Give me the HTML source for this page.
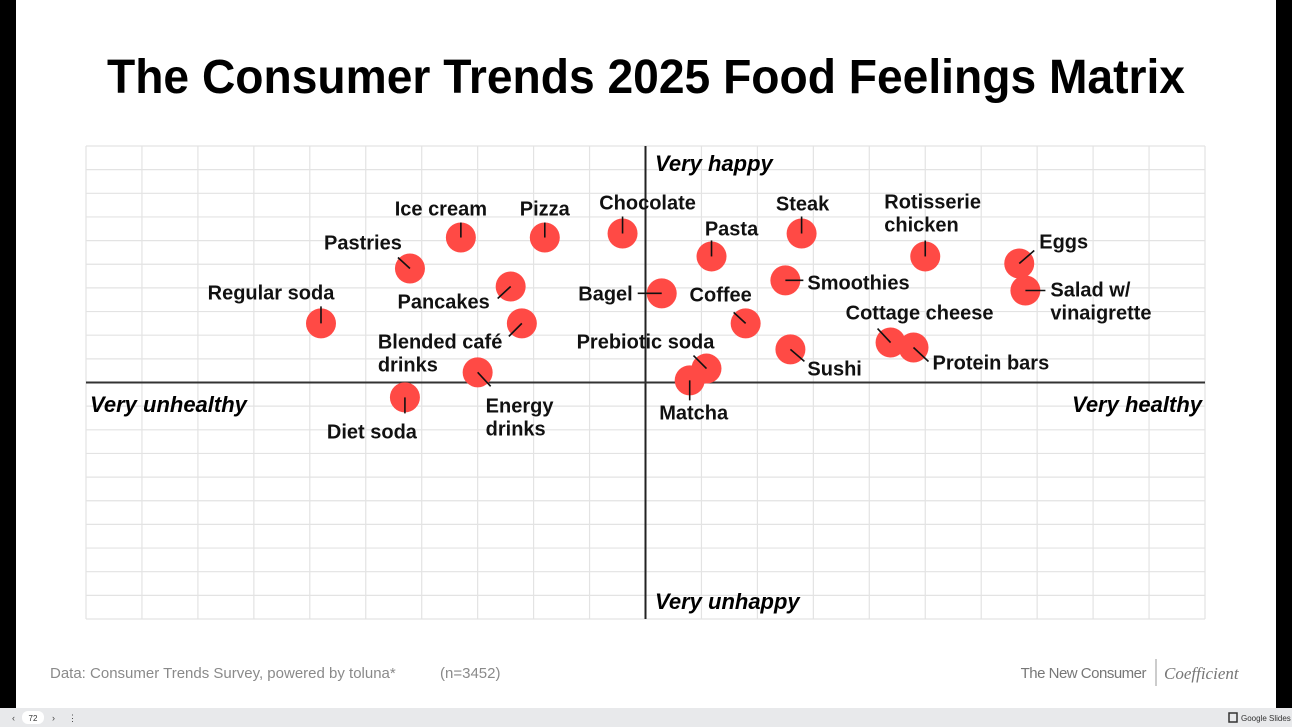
<!DOCTYPE html>
<html><head><meta charset="utf-8">
<style>
html,body{margin:0;padding:0;width:1292px;height:727px;overflow:hidden;background:#000;font-family:"Liberation Sans",sans-serif}
#slide{position:absolute;left:16px;top:0;width:1260px;height:708px;background:#fff}
#bar{position:absolute;left:0;top:708px;width:1292px;height:19px;background:#e8e9eb}
svg{position:absolute;left:0;top:0}
</style></head><body>
<div id="slide"></div>
<div id="bar"></div>
<svg id="chart" width="1292" height="727">
<text x="646" y="93" text-anchor="middle" font-size="48" font-weight="bold" textLength="1078" lengthAdjust="spacingAndGlyphs" fill="#000">The Consumer Trends 2025 Food Feelings Matrix</text>
<g id="grid"></g>
<g id="marks"></g>
<text x="655" y="171" font-size="22" font-weight="bold" font-style="italic">Very happy</text>
<text x="655" y="609" font-size="22" font-weight="bold" font-style="italic">Very unhappy</text>
<text x="90" y="412" font-size="22" font-weight="bold" font-style="italic">Very unhealthy</text>
<text x="1202" y="412" text-anchor="end" font-size="22" font-weight="bold" font-style="italic">Very healthy</text>
<text x="50" y="678" font-size="15" fill="#8a8a8a">Data: Consumer Trends Survey, powered by toluna*</text>
<text x="440" y="678" font-size="15" fill="#8a8a8a">(n=3452)</text>
<text x="1146" y="678" text-anchor="end" font-size="15" fill="#777" letter-spacing="-0.5">The New Consumer</text>
<line x1="1156" y1="659" x2="1156" y2="686" stroke="#999"/>
<text x="1164" y="679" font-size="17" font-style="italic" fill="#777" font-family="Liberation Serif,serif">Coefficient</text>
<text x="12" y="721" font-size="9" fill="#444">‹</text>
<rect x="22" y="711" width="22" height="13" rx="6" fill="#fff"/>
<text x="33" y="721" text-anchor="middle" font-size="8" fill="#333">72</text>
<text x="52" y="721" font-size="9" fill="#444">›</text>
<text x="68" y="721" font-size="9" fill="#444">⋮</text>
<rect x="1229" y="713" width="8" height="9" fill="none" stroke="#333" stroke-width="1.5"/>
<text x="1241" y="721" font-size="8" fill="#333">Google Slides</text>
</svg>
<script>
const names=["Regular soda","Diet soda","Pastries","Ice cream","Pizza","Chocolate","Pancakes","Blended café|drinks","Energy|drinks","Bagel","Pasta","Steak","Smoothies","Coffee","Prebiotic soda","Matcha","Sushi","Rotisserie|chicken","Cottage cheese","Protein bars","Eggs","Salad w/|vinaigrette"];
const health=[-5.8,-4.3,-4.21,-3.3,-1.8,-0.41,-2.41,-2.21,-3.0,0.29,1.18,2.79,2.5,1.79,1.09,0.79,2.59,5.0,4.38,4.79,6.68,6.79];
const happy=[2.5,-0.63,4.82,6.13,6.13,6.3,4.06,2.5,0.43,3.77,5.33,6.3,4.32,2.5,0.59,0.09,1.4,5.33,1.69,1.48,5.03,3.89];
const xTicks=[-10,-9,-8,-7,-6,-5,-4,-3,-2,-1,0,1,2,3,4,5,6,7,8,9,10];
const yTicks=[-10,-9,-8,-7,-6,-5,-4,-3,-2,-1,0,1,2,3,4,5,6,7,8,9,10];
// label placement styles: [leaderDx, leaderDy, textDx, textDy, anchor]
const lab=[[0,-17,-50,-24,"middle"],[0,16,-33,41,"middle"],[-12,-11,-47,-19,"middle"],[0,-15,-20,-22,"middle"],[0,-15,0,-22,"middle"],[0,-17,25,-24,"middle"],[-13,12,-67,22,"middle"],[-13,13,-144,25,"start"],[13,14,8,40,"start"],[-24,0,-29,7,"end"],[0,-16,20,-21,"middle"],[0,-17,1,-23,"middle"],[18,0,22,9,"start"],[-12,-11,-25,-22,"middle"],[-13,-13,-61,-20,"middle"],[0,20,4,39,"middle"],[14,12,17,26,"start"],[0,-16,-41,-48,"start"],[-13,-14,29,-23,"middle"],[15,14,19,22,"start"],[15,-13,20,-15,"start"],[20,0,25,6,"start"]];
const L=86,R=1205,T=146,B=619;
const sx=v=>L+(v+10)/20*(R-L);
const sy=v=>B-(v+10)/20*(B-T);
const NS="http://www.w3.org/2000/svg";
function mk(t,a,p){const e=document.createElementNS(NS,t);for(const k in a)e.setAttribute(k,a[k]);p.appendChild(e);return e;}
const grid=document.getElementById('grid'),marks=document.getElementById('marks');
xTicks.forEach(v=>{const l=mk('line',{x1:sx(v),x2:sx(v),y1:T,y2:B,stroke:'#e3e3e3','stroke-width':1.2},grid);

});
yTicks.forEach(v=>{const l=mk('line',{x1:L,x2:R,y1:sy(v),y2:sy(v),stroke:'#e3e3e3','stroke-width':1.2},grid);

});
const ax=mk('line',{x1:sx(0),x2:sx(0),y1:T,y2:B,stroke:'#222','stroke-width':2},grid);


const ay=mk('line',{x1:L,x2:R,y1:sy(0),y2:sy(0),stroke:'#333','stroke-width':2},grid);


names.forEach((n,i)=>{const cx=sx(health[i]),cy=sy(happy[i]);
const c=mk('circle',{cx:cx,cy:cy,r:15,fill:'#ff4a45'},marks);

});
names.forEach((n,i)=>{const cx=sx(health[i]),cy=sy(happy[i]),s=lab[i];
const ln=mk('line',{x1:cx,y1:cy,x2:cx+s[0],y2:cy+s[1],stroke:'#111','stroke-width':1.6},marks);


const t=mk('text',{x:cx+s[2],y:cy+s[3],'text-anchor':s[4],'font-size':20,'font-weight':'bold',fill:'#111'},marks);


n.split('|').forEach((p,j)=>{const ts=mk('tspan',{x:cx+s[2],dy:j?23:0},t);ts.textContent=p;});});
</script>
</body></html>
